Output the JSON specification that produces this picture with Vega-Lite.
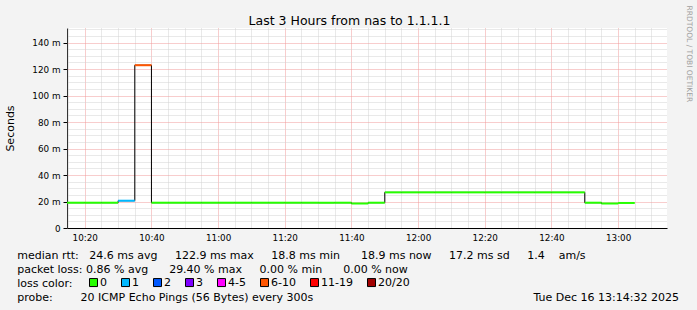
{
  "$schema": "https://vega.github.io/schema/vega-lite/v6.json",
  "width": 600,
  "height": 200,
  "autosize": {"type": "none"},
  "padding": {"left": 67, "top": 28, "right": 30, "bottom": 82},
  "background": "#f3f3f3",
  "config": {
    "font": "DejaVu Sans",
    "view": {"fill": "white", "stroke": null}
  },
  "data": {
    "values": [
      {"start": "2025-12-16T10:10:00", "end": "2025-12-16T10:15:00", "rtt": 19.1, "loss": "0"},
      {"start": "2025-12-16T10:15:00", "end": "2025-12-16T10:20:00", "rtt": 19.1, "loss": "0"},
      {"start": "2025-12-16T10:20:00", "end": "2025-12-16T10:25:00", "rtt": 19.1, "loss": "0"},
      {"start": "2025-12-16T10:25:00", "end": "2025-12-16T10:30:00", "rtt": 19.1, "loss": "0"},
      {"start": "2025-12-16T10:30:00", "end": "2025-12-16T10:35:00", "rtt": 20.6, "loss": "1"},
      {"start": "2025-12-16T10:35:00", "end": "2025-12-16T10:40:00", "rtt": 122.9, "loss": "6-10"},
      {"start": "2025-12-16T10:40:00", "end": "2025-12-16T10:45:00", "rtt": 19.1, "loss": "0"},
      {"start": "2025-12-16T10:45:00", "end": "2025-12-16T10:50:00", "rtt": 19.1, "loss": "0"},
      {"start": "2025-12-16T10:50:00", "end": "2025-12-16T10:55:00", "rtt": 19.1, "loss": "0"},
      {"start": "2025-12-16T10:55:00", "end": "2025-12-16T11:00:00", "rtt": 19.1, "loss": "0"},
      {"start": "2025-12-16T11:00:00", "end": "2025-12-16T11:05:00", "rtt": 19.1, "loss": "0"},
      {"start": "2025-12-16T11:05:00", "end": "2025-12-16T11:10:00", "rtt": 19.1, "loss": "0"},
      {"start": "2025-12-16T11:10:00", "end": "2025-12-16T11:15:00", "rtt": 19.1, "loss": "0"},
      {"start": "2025-12-16T11:15:00", "end": "2025-12-16T11:20:00", "rtt": 19.1, "loss": "0"},
      {"start": "2025-12-16T11:20:00", "end": "2025-12-16T11:25:00", "rtt": 19.1, "loss": "0"},
      {"start": "2025-12-16T11:25:00", "end": "2025-12-16T11:30:00", "rtt": 19.1, "loss": "0"},
      {"start": "2025-12-16T11:30:00", "end": "2025-12-16T11:35:00", "rtt": 19.1, "loss": "0"},
      {"start": "2025-12-16T11:35:00", "end": "2025-12-16T11:40:00", "rtt": 19.1, "loss": "0"},
      {"start": "2025-12-16T11:40:00", "end": "2025-12-16T11:45:00", "rtt": 18.5, "loss": "0"},
      {"start": "2025-12-16T11:45:00", "end": "2025-12-16T11:50:00", "rtt": 19.1, "loss": "0"},
      {"start": "2025-12-16T11:50:00", "end": "2025-12-16T11:55:00", "rtt": 26.9, "loss": "0"},
      {"start": "2025-12-16T11:55:00", "end": "2025-12-16T12:00:00", "rtt": 26.9, "loss": "0"},
      {"start": "2025-12-16T12:00:00", "end": "2025-12-16T12:05:00", "rtt": 26.9, "loss": "0"},
      {"start": "2025-12-16T12:05:00", "end": "2025-12-16T12:10:00", "rtt": 26.9, "loss": "0"},
      {"start": "2025-12-16T12:10:00", "end": "2025-12-16T12:15:00", "rtt": 26.9, "loss": "0"},
      {"start": "2025-12-16T12:15:00", "end": "2025-12-16T12:20:00", "rtt": 26.9, "loss": "0"},
      {"start": "2025-12-16T12:20:00", "end": "2025-12-16T12:25:00", "rtt": 26.9, "loss": "0"},
      {"start": "2025-12-16T12:25:00", "end": "2025-12-16T12:30:00", "rtt": 26.9, "loss": "0"},
      {"start": "2025-12-16T12:30:00", "end": "2025-12-16T12:35:00", "rtt": 26.9, "loss": "0"},
      {"start": "2025-12-16T12:35:00", "end": "2025-12-16T12:40:00", "rtt": 26.9, "loss": "0"},
      {"start": "2025-12-16T12:40:00", "end": "2025-12-16T12:45:00", "rtt": 26.9, "loss": "0"},
      {"start": "2025-12-16T12:45:00", "end": "2025-12-16T12:50:00", "rtt": 26.9, "loss": "0"},
      {"start": "2025-12-16T12:50:00", "end": "2025-12-16T12:55:00", "rtt": 19.1, "loss": "0"},
      {"start": "2025-12-16T12:55:00", "end": "2025-12-16T13:00:00", "rtt": 18.5, "loss": "0"},
      {"start": "2025-12-16T13:00:00", "end": "2025-12-16T13:05:00", "rtt": 18.9, "loss": "0"}
    ]
  },
  "resolve": {"axis": {"x": "independent", "y": "independent"}},
  "layer": [
    {
      "mark": {"type": "line", "interpolate": "step-after", "color": "#000000", "strokeWidth": 1, "clip": true},
      "encoding": {
        "x": {
          "field": "start",
          "type": "temporal",
          "scale": {
            "domain": [
              {"year": 2025, "month": 12, "date": 16, "hours": 10, "minutes": 14, "seconds": 40},
              {"year": 2025, "month": 12, "date": 16, "hours": 13, "minutes": 14, "seconds": 40}
            ],
            "nice": false
          },
          "axis": {
            "orient": "bottom",
            "values": [
              {"year": 2025, "month": 12, "date": 16, "hours": 10, "minutes": 15},
              {"year": 2025, "month": 12, "date": 16, "hours": 10, "minutes": 20},
              {"year": 2025, "month": 12, "date": 16, "hours": 10, "minutes": 25},
              {"year": 2025, "month": 12, "date": 16, "hours": 10, "minutes": 30},
              {"year": 2025, "month": 12, "date": 16, "hours": 10, "minutes": 35},
              {"year": 2025, "month": 12, "date": 16, "hours": 10, "minutes": 40},
              {"year": 2025, "month": 12, "date": 16, "hours": 10, "minutes": 45},
              {"year": 2025, "month": 12, "date": 16, "hours": 10, "minutes": 50},
              {"year": 2025, "month": 12, "date": 16, "hours": 10, "minutes": 55},
              {"year": 2025, "month": 12, "date": 16, "hours": 11, "minutes": 0},
              {"year": 2025, "month": 12, "date": 16, "hours": 11, "minutes": 5},
              {"year": 2025, "month": 12, "date": 16, "hours": 11, "minutes": 10},
              {"year": 2025, "month": 12, "date": 16, "hours": 11, "minutes": 15},
              {"year": 2025, "month": 12, "date": 16, "hours": 11, "minutes": 20},
              {"year": 2025, "month": 12, "date": 16, "hours": 11, "minutes": 25},
              {"year": 2025, "month": 12, "date": 16, "hours": 11, "minutes": 30},
              {"year": 2025, "month": 12, "date": 16, "hours": 11, "minutes": 35},
              {"year": 2025, "month": 12, "date": 16, "hours": 11, "minutes": 40},
              {"year": 2025, "month": 12, "date": 16, "hours": 11, "minutes": 45},
              {"year": 2025, "month": 12, "date": 16, "hours": 11, "minutes": 50},
              {"year": 2025, "month": 12, "date": 16, "hours": 11, "minutes": 55},
              {"year": 2025, "month": 12, "date": 16, "hours": 12, "minutes": 0},
              {"year": 2025, "month": 12, "date": 16, "hours": 12, "minutes": 5},
              {"year": 2025, "month": 12, "date": 16, "hours": 12, "minutes": 10},
              {"year": 2025, "month": 12, "date": 16, "hours": 12, "minutes": 15},
              {"year": 2025, "month": 12, "date": 16, "hours": 12, "minutes": 20},
              {"year": 2025, "month": 12, "date": 16, "hours": 12, "minutes": 25},
              {"year": 2025, "month": 12, "date": 16, "hours": 12, "minutes": 30},
              {"year": 2025, "month": 12, "date": 16, "hours": 12, "minutes": 35},
              {"year": 2025, "month": 12, "date": 16, "hours": 12, "minutes": 40},
              {"year": 2025, "month": 12, "date": 16, "hours": 12, "minutes": 45},
              {"year": 2025, "month": 12, "date": 16, "hours": 12, "minutes": 50},
              {"year": 2025, "month": 12, "date": 16, "hours": 12, "minutes": 55},
              {"year": 2025, "month": 12, "date": 16, "hours": 13, "minutes": 0},
              {"year": 2025, "month": 12, "date": 16, "hours": 13, "minutes": 5},
              {"year": 2025, "month": 12, "date": 16, "hours": 13, "minutes": 10}
            ],
            "labelExpr": "minutes(datum.value) % 20 == 0 ? timeFormat(datum.value, '%H:%M') : ''",
            "labelFontSize": 8.8,
            "labelColor": "#000000",
            "labelPadding": 5,
            "labelFlush": false,
            "labelOverlap": false,
            "labelBound": false,
            "ticks": false,
            "domainColor": "#000000",
            "domainWidth": 1,
            "grid": true,
            "gridColor": {"condition": {"test": "minutes(datum.value) % 20 == 0", "value": "#f09a9a"}, "value": "#d2d2d2"},
            "gridDash": [1, 1],
            "gridWidth": 1,
            "title": [
              "median rtt:\u00a0\u00a0\u00a024.6 ms avg\u00a0\u00a0\u00a0\u00a0\u00a0122.9 ms max\u00a0\u00a0\u00a0\u00a0\u00a018.8 ms min\u00a0\u00a0\u00a0\u00a0\u00a0\u00a018.9 ms now\u00a0\u00a0\u00a0\u00a0\u00a017.2 ms sd\u00a0\u00a0\u00a0\u00a0\u00a01.4\u00a0\u00a0\u00a0\u00a0am/s",
              "packet loss:\u00a00.86 % avg\u00a0\u00a0\u00a0\u00a0\u00a0\u00a029.40 % max\u00a0\u00a0\u00a0\u00a0\u00a00.00 % min\u00a0\u00a0\u00a0\u00a0\u00a0\u00a00.00 % now",
              "loss color:",
              "probe:\u00a0\u00a0\u00a0\u00a0\u00a0\u00a0\u00a0\u00a020 ICMP Echo Pings (56 Bytes) every 300s\u00a0\u00a0\u00a0\u00a0\u00a0\u00a0\u00a0\u00a0\u00a0\u00a0\u00a0\u00a0\u00a0\u00a0\u00a0\u00a0\u00a0\u00a0\u00a0\u00a0\u00a0\u00a0\u00a0\u00a0\u00a0\u00a0\u00a0\u00a0\u00a0\u00a0\u00a0\u00a0\u00a0\u00a0\u00a0\u00a0\u00a0\u00a0\u00a0\u00a0\u00a0\u00a0\u00a0\u00a0\u00a0\u00a0\u00a0\u00a0\u00a0\u00a0\u00a0\u00a0\u00a0\u00a0\u00a0\u00a0\u00a0\u00a0\u00a0\u00a0\u00a0\u00a0\u00a0Tue Dec 16 13:14:32 2025"
            ],
            "titleFontSize": 11,
            "titleFontWeight": "normal",
            "titleColor": "#000000",
            "titleAlign": "left",
            "titleAnchor": "start",
            "titleBaseline": "alphabetic",
            "titleX": -50.3,
            "titleY": 30.5,
            "titleLineHeight": 13.9
          }
        },
        "y": {
          "field": "rtt",
          "type": "quantitative",
          "scale": {"domain": [0, 151], "nice": false, "zero": true},
          "axis": {
            "orient": "left",
            "values": [0, 5, 10, 15, 20, 25, 30, 35, 40, 45, 50, 55, 60, 65, 70, 75, 80, 85, 90, 95, 100, 105, 110, 115, 120, 125, 130, 135, 140, 145, 150],
            "labelExpr": "datum.value % 20 == 0 ? (datum.value == 0 ? '0' : datum.value + ' m') : ''",
            "labelFontSize": 8.8,
            "labelColor": "#000000",
            "labelPadding": 3,
            "labelOverlap": false,
            "labelBound": false,
            "labelFlush": false,
            "tickSize": 4,
            "tickColor": "#000000",
            "tickOpacity": {"condition": {"test": "datum.value % 20 == 0", "value": 1}, "value": 0},
            "domainColor": "#333333",
            "grid": true,
            "gridColor": {"condition": {"test": "datum.value % 20 == 0", "value": "#f09a9a"}, "value": "#d2d2d2"},
            "gridDash": [1, 1],
            "gridWidth": 1,
            "title": "Seconds",
            "titleFontSize": 11,
            "titleFontWeight": "normal",
            "titleColor": "#000000",
            "titleAngle": -90,
            "titleX": -57,
            "titleY": 100,
            "titleAlign": "center",
            "titleBaseline": "middle"
          }
        }
      }
    },
    {
      "mark": {"type": "rect", "clip": true, "yOffset": 1, "y2Offset": -1},
      "encoding": {
        "x": {
          "field": "start",
          "type": "temporal",
          "axis": {
            "orient": "top",
            "labels": false,
            "ticks": false,
            "domain": false,
            "grid": false,
            "title": "Last 3 Hours from nas to 1.1.1.1",
            "titleFontSize": 12.5,
            "titleFontWeight": "normal",
            "titleColor": "#000000",
            "titleAlign": "center",
            "titleAnchor": "middle",
            "titleBaseline": "alphabetic",
            "titleX": 282,
            "titleY": -4
          }
        },
        "x2": {"field": "end"},
        "y": {
          "field": "rtt",
          "type": "quantitative",
          "axis": {
            "orient": "right",
            "labels": false,
            "ticks": false,
            "domain": false,
            "grid": false,
            "title": "RRDTOOL / TOBI OETIKER",
            "titleFontSize": 7.5,
            "titleFontWeight": "normal",
            "titleColor": "#a0a0a0",
            "titleAngle": 90,
            "titleAlign": "left",
            "titleBaseline": "middle",
            "titleX": 21,
            "titleY": -23
          }
        },
        "y2": {"field": "rtt"},
        "color": {
          "field": "loss",
          "type": "nominal",
          "scale": {
            "domain": ["0", "1", "2", "3", "4-5", "6-10", "11-19", "20/20"],
            "range": ["#26ff00", "#00b8ff", "#0059ff", "#7e00ff", "#ff00ff", "#ff5500", "#ff0000", "#a10000"]
          },
          "legend": {
            "orient": "none",
            "legendX": 21,
            "legendY": 248.8,
            "direction": "horizontal",
            "padding": 0,
            "columnPadding": 12,
            "rowPadding": 0,
            "title": null,
            "symbolType": "square",
            "symbolSize": 64,
            "symbolStrokeColor": "#000000",
            "symbolStrokeWidth": 1,
            "symbolOpacity": 1,
            "labelFontSize": 11,
            "labelColor": "#000000",
            "labelOffset": 1
          }
        }
      }
    }
  ]
}
